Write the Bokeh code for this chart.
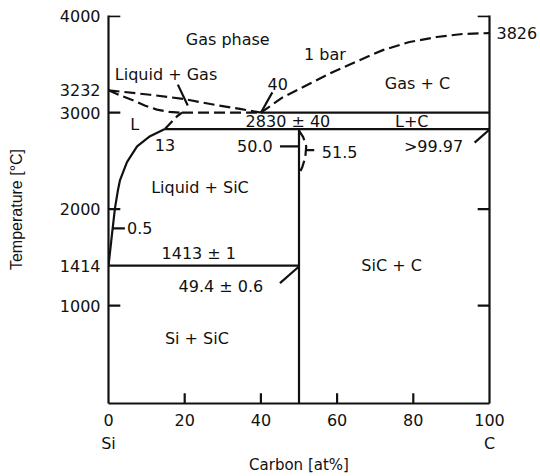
from bokeh.plotting import figure
from bokeh.models import LinearAxis, FixedTicker, Range1d
from bokeh.core.properties import value
from bokeh.embed import file_html
from bokeh.resources import INLINE

FONT = "DejaVu Sans"

# ---- axis ticks -------------------------------------------------------
y_tick_vals = [1000, 1414, 2000, 3000, 3232, 4000]
x_tick_vals = [0, 20, 40, 60, 80, 100]
right_tick_vals = [3826]
x_end_names = {0: "Si", 100: "C"}

# ---- phase boundaries (carbon at%, temperature degC) ----------------
liq_solid_x = [0, 0.92, 1.7, 2.5, 3.0, 4.85, 7.5, 10.9, 14.8]
liq_solid_t = [1414, 1741, 2010, 2201, 2297, 2488, 2651, 2756, 2830]
liq_dash_x = [14.8, 16.6, 18.0, 19.3]
liq_dash_t = [2830, 2906, 2963, 3000]
gas_upper_x = [0, 10.9, 19.5, 28.4, 34.5, 40]
gas_upper_t = [3232, 3186, 3144, 3078, 3039, 3000]
gas_lower_x = [0, 3, 6.4, 9.5, 12.7, 16, 19.3]
gas_lower_t = [3232, 3180, 3130, 3075, 3032, 3008, 3000]
bar1_x = [40, 45.7, 52.0, 58.8, 65.9, 72.0, 79.0, 86.1, 92.9, 100]
bar1_t = [3000, 3159, 3284, 3420, 3545, 3649, 3733, 3785, 3816, 3826]
sic_dash_x = [50.0, 51.1, 51.9, 51.65, 50.9, 50.05]
sic_dash_t = [2814, 2747, 2651, 2536, 2440, 2364]

# solid isotherms / compound line
iso_x0 = [0, 14.8, 40, 50]
iso_x1 = [50, 100, 100, 50]
iso_t0 = [1414, 2830, 3000, -16]
iso_t1 = [1414, 2830, 3000, 2830]
# dashed isotherm
diso_x = [19.3, 40]
diso_t = [3000, 3000]

# leader lines
lead_x0 = [18.2, 43.0, 45.0, 51.65, 96.1, 1.1, 45.0]
lead_t0 = [3291, 3211, 2651, 2612, 2689, 1800, 1233]
lead_x1 = [20.8, 40.0, 50.0, 54.0, 100.0, 4.3, 50.0]
lead_t1 = [3074, 3000, 2651, 2612, 2825, 1800, 1405]

# inner tick marks
left_ticks = [1000, 2000, 3000, 4000]
right_ticks = [1000, 2000, 4000]
bottom_ticks = [20, 40, 60, 80]

# ---- annotations -------------------------------------------------------
lab_c = ["Gas phase", "1 bar", "40", "Gas + C", "Liquid + Gas", "L",
         "2830 \u00b1 40", "L+C", "13", ">99.97", "Liquid + SiC",
         "1413 \u00b1 1", "49.4 \u00b1 0.6", "Si + SiC", "SiC + C"]
lab_c_x = [31.3, 56.8, 44.4, 81.1, 15.1, 6.9, 47.1, 79.6, 14.8, 85.3, 24.0,
           23.7, 29.5, 23.2, 74.3]
lab_c_t = [3759, 3606, 3299, 3299, 3394, 2873, 2913, 2913, 2661, 2651, 2220,
           1540, 1197, 661, 1411]
lab_l = ["0.5", "51.5"]
lab_l_x = [4.85, 56.0]
lab_l_t = [1800, 2594]
lab_r = ["50.0"]
lab_r_x = [43.1]
lab_r_t = [2651]

LW = 2.2
INK = "#111111"

p = figure(width=540, height=476, x_range=Range1d(0, 100),
           y_range=Range1d(-16, 4008), output_backend="svg",
           toolbar_location=None, x_axis_type=None, y_axis_type=None,
           min_border_left=108, min_border_right=50, min_border_top=15,
           min_border_bottom=73)
p.outline_line_color = None
p.background_fill_color = "white"
p.border_fill_color = "white"


def style_axis(ax, size="16px"):
    ax.major_tick_in = 0
    ax.major_tick_out = 0
    ax.minor_tick_in = 0
    ax.minor_tick_out = 0
    ax.axis_line_width = LW
    ax.axis_line_color = INK
    ax.major_label_text_font = FONT
    ax.major_label_text_font_size = size
    ax.major_label_text_color = INK


yax = LinearAxis(ticker=FixedTicker(ticks=y_tick_vals),
                 major_label_overrides={v: str(v) for v in y_tick_vals},
                 axis_label="Temperature [\u00b0C]")
style_axis(yax)
yax.major_label_standoff = 8
yax.axis_label_standoff = 32
yax.axis_label_text_font = "Liberation Sans"
yax.axis_label_text_font_size = "16px"
yax.axis_label_text_font_style = "normal"
yax.axis_label_text_color = INK
p.add_layout(yax, "left")

xax = LinearAxis(ticker=FixedTicker(ticks=x_tick_vals),
                 major_label_overrides={v: str(v) for v in x_tick_vals})
style_axis(xax)
xax.major_label_standoff = 10
p.add_layout(xax, "below")

sax = LinearAxis(ticker=FixedTicker(ticks=list(x_end_names.keys())),
                 major_label_overrides=x_end_names,
                 axis_label="Carbon [at%]")
style_axis(sax)
sax.axis_line_color = None
sax.major_label_standoff = 5
sax.axis_label_standoff = 0
sax.axis_label_text_font = FONT
sax.axis_label_text_font_size = "15px"
sax.axis_label_text_font_style = "normal"
sax.axis_label_text_color = INK
p.add_layout(sax, "below")

rax = LinearAxis(ticker=FixedTicker(ticks=right_tick_vals),
                 major_label_overrides={v: str(v) for v in right_tick_vals})
style_axis(rax)
rax.major_label_standoff = 7
p.add_layout(rax, "right")

# inner ticks
p.segment(x0=[0] * len(left_ticks), y0=left_ticks, x1=[3.1] * len(left_ticks),
          y1=left_ticks, line_width=LW, line_color=INK)
p.segment(x0=[100] * len(right_ticks), y0=right_ticks,
          x1=[96.9] * len(right_ticks), y1=right_ticks, line_width=LW,
          line_color=INK)
p.segment(x0=bottom_ticks, y0=[-16] * len(bottom_ticks), x1=bottom_ticks,
          y1=[90] * len(bottom_ticks), line_width=LW, line_color=INK)

# solid lines
p.segment(x0=iso_x0, y0=iso_t0, x1=iso_x1, y1=iso_t1, line_width=LW,
          line_color=INK)
p.line(liq_solid_x, liq_solid_t, line_width=LW, line_color=INK)
p.segment(x0=lead_x0, y0=lead_t0, x1=lead_x1, y1=lead_t1, line_width=LW,
          line_color=INK)

# dashed lines
DASH = "11 5"
for xs, ts in [(liq_dash_x, liq_dash_t), (gas_upper_x, gas_upper_t),
               (gas_lower_x, gas_lower_t), (bar1_x, bar1_t),
               (sic_dash_x, sic_dash_t), (diso_x, diso_t)]:
    p.line(xs, ts, line_width=LW, line_color=INK, line_dash=DASH)

# texts
p.text(x=lab_c_x, y=lab_c_t, text=lab_c, text_align="center",
       text_baseline="middle", text_font=value(FONT), text_font_size="16px",
       text_color=INK)
p.text(x=lab_l_x, y=lab_l_t, text=lab_l, text_align="left",
       text_baseline="middle", text_font=value(FONT), text_font_size="16px",
       text_color=INK)
p.text(x=lab_r_x, y=lab_r_t, text=lab_r, text_align="right",
       text_baseline="middle", text_font=value(FONT), text_font_size="16px",
       text_color=INK)

open("out.html", "w").write(file_html(p, INLINE))
